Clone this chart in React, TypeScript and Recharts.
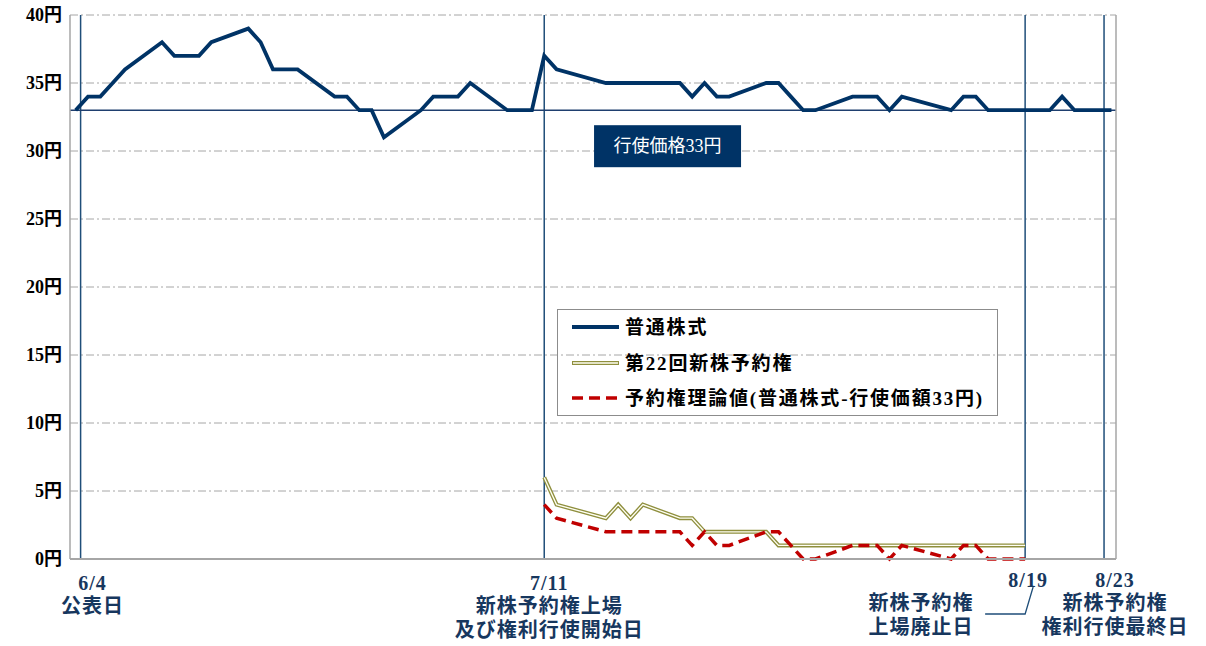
import React from 'react';
import { LineChart, Line, XAxis, YAxis, CartesianGrid, ReferenceLine, Legend } from 'recharts';

// ---- data ----
const TRADE_DATES = [
  '6/3', '6/4', '6/5', '6/6', '6/7', '6/10', '6/11', '6/12', '6/13', '6/14',
  '6/17', '6/18', '6/19', '6/20', '6/21', '6/24', '6/25', '6/26', '6/27', '6/28',
  '7/1', '7/2', '7/3', '7/4', '7/5', '7/8', '7/9', '7/10', '7/11', '7/12',
  '7/16', '7/17', '7/18', '7/19', '7/22', '7/23', '7/24', '7/25', '7/26', '7/29',
  '7/30', '7/31', '8/1', '8/2', '8/5', '8/6', '8/7', '8/8', '8/9', '8/13',
  '8/14', '8/15', '8/16', '8/19', '8/20', '8/21', '8/22', '8/23', '8/26',
];
const STOCK = [
  33, 34, 34, 35, 36, 38, 37, 37, 37, 38,
  39, 38, 36, 36, 36, 34, 34, 33, 33, 31,
  33, 34, 34, 34, 35, 33, 33, 33, 37, 36,
  35, 35, 35, 35, 35, 34, 35, 34, 34, 35,
  35, 34, 33, 33, 34, 34, 34, 33, 34, 33,
  34, 34, 33, 33, 33, 33, 34, 33, 33,
];
const WARRANT_DATES = [
  '7/11', '7/12', '7/16', '7/17', '7/18', '7/19', '7/22', '7/23', '7/24', '7/25',
  '7/26', '7/29', '7/30', '7/31', '8/1', '8/2', '8/5', '8/6', '8/7', '8/8',
  '8/9', '8/13', '8/14', '8/15', '8/16', '8/19',
];
const WARRANT = [6, 4, 3, 4, 3, 4, 3, 3, 2, 2, 2, 2, 1, 1, 1, 1, 1, 1, 1, 1, 1, 1, 1, 1, 1, 1];
const THEORY = [4, 3, 2, 2, 2, 2, 2, 1, 2, 1, 1, 2, 2, 1, 0, 0, 1, 1, 1, 0, 1, 0, 1, 1, 0, 0];

const Y_TICKS = [0, 5, 10, 15, 20, 25, 30, 35, 40];
const EXERCISE_PRICE = 33;
const EXERCISE_LABEL = '行使価格33円';

const SERIES_NAMES = ['普通株式', '第22回新株予約権', '予約権理論値(普通株式-行使価額33円)'];

// event markers (x in days from 6/3, as drawn in the picture)
const EVENT_X = [0.4, 38, 77, 83.4];
const EVENT_DATES = ['6/4', '7/11', '8/19', '8/23'];
const EVENT_TEXT = [
  ['公表日'],
  ['新株予約権上場', '及び権利行使開始日'],
  ['新株予約権', '上場廃止日'],
  ['新株予約権', '権利行使最終日'],
];

// ---- helpers ----
const BASE = Date.UTC(2019, 5, 3);
const dayOf = (md: string) => {
  const [m, d] = md.split('/').map(Number);
  return (Date.UTC(2019, m - 1, d) - BASE) / 86400000;
};

const rows = TRADE_DATES.map((d, i) => {
  const wi = WARRANT_DATES.indexOf(d);
  return {
    x: dayOf(d),
    date: d,
    stock: STOCK[i],
    warrant: wi >= 0 ? WARRANT[wi] : undefined,
    theory: wi >= 0 ? THEORY[wi] : undefined,
  };
});

// ---- styles ----
const FONT = "'Liberation Serif','Noto Sans CJK JP',serif";
const NAVY = '#003366';
const LABEL_NAVY = '#17375E';
const OLIVE = '#8F8F3E';
const RED = '#C00000';
const GRID = '#A6A6A6';
const VLINE = '#1F4E79';

// label layout per event: dx of date / description, baselines below axis
const EVENT_LAYOUT = [
  { dateDx: 12, descDx: 12, dateDy: 31, descDy: [54, 78], leader: false },
  { dateDx: 5, descDx: 5, dateDy: 31, descDy: [54, 78], leader: false },
  { dateDx: 3, descDx: -104, dateDy: 28, descDy: [51, 75], leader: true },
  { dateDx: 11, descDx: 11, dateDy: 28, descDy: [51, 75], leader: false },
];

const makeEventLabel = (idx: number) => (props: any) => {
  const vb = props.viewBox || {};
  const vx = vb.x;
  const bottom = vb.y + vb.height;
  const L = EVENT_LAYOUT[idx];
  const textStyle = {
    fontFamily: FONT,
    fontSize: 20,
    fontWeight: 700,
    fill: LABEL_NAVY,
    letterSpacing: 1,
  } as any;
  return (
    <g>
      <text x={vx + L.dateDx} y={bottom + L.dateDy} textAnchor="middle" {...textStyle}>
        {EVENT_DATES[idx]}
      </text>
      {EVENT_TEXT[idx].map((t, k) => (
        <text key={k} x={vx + L.descDx} y={bottom + L.descDy[k]} textAnchor="middle" {...textStyle}>
          {t}
        </text>
      ))}
      {L.leader && (
        <polyline
          points={`${vx - 40},${bottom + 55} ${vx},${bottom + 55} ${vx + 8},${bottom + 28}`}
          fill="none"
          stroke={VLINE}
          strokeWidth={1.3}
        />
      )}
    </g>
  );
};

const ExerciseLabel = (props: any) => {
  const vb = props.viewBox || {};
  const bx = vb.x + vb.width * 0.501;
  const by = vb.y + 15;
  const w = 147;
  const h = 42;
  return (
    <g>
      <rect x={bx} y={by} width={w} height={h} fill={NAVY} />
      <text
        x={bx + w / 2}
        y={by + h / 2 + 6}
        textAnchor="middle"
        fontFamily={FONT}
        fontSize={18}
        fill="#FFFFFF"
      >
        {EXERCISE_LABEL}
      </text>
    </g>
  );
};

const LegendBox = () => {
  const rowsY = [17, 53, 88];
  const textStyle = { fontFamily: FONT, fontSize: 19, fontWeight: 700, fill: '#000', letterSpacing: 1.8 } as any;
  return (
    <div
      style={{
        width: 441,
        height: 107,
        border: '1px solid #8C8C8C',
        boxSizing: 'border-box',
      }}
    >
      <svg width={439} height={105} style={{ display: 'block' }}>
        <line x1={14} x2={61} y1={rowsY[0]} y2={rowsY[0]} stroke={NAVY} strokeWidth={3.8} />
        <line x1={14} x2={61} y1={rowsY[1]} y2={rowsY[1]} stroke={OLIVE} strokeWidth={4} />
        <line x1={15} x2={60} y1={rowsY[1]} y2={rowsY[1]} stroke="#FFFFF4" strokeWidth={1.3} />
        <line x1={14} x2={61} y1={rowsY[2]} y2={rowsY[2]} stroke={RED} strokeWidth={3.5} strokeDasharray="11 6" />
        {SERIES_NAMES.map((n, i) => (
          <text key={n} x={67} y={rowsY[i] + 7} {...textStyle}>
            {n}
          </text>
        ))}
      </svg>
    </div>
  );
};

export default function App() {
  return (
    <div style={{ position: 'absolute', left: 0, top: 0, width: 1206, height: 646, background: '#fff' }}>
      <LineChart
        width={1206}
        height={646}
        data={rows}
        margin={{ top: 15, right: 0, bottom: 57, left: 0 }}
      >
        <CartesianGrid vertical={false} stroke={GRID} strokeDasharray="8 3 2 3" />
        <XAxis
          dataKey="x"
          type="number"
          domain={[-0.46, 84.37]}
          allowDataOverflow
          tick={false}
          tickLine={false}
          axisLine={{ stroke: GRID, strokeWidth: 2 }}
          height={30}
        />
        <YAxis
          domain={[0, 40]}
          ticks={Y_TICKS}
          tickFormatter={(v: number) => `${v}円`}
          width={70}
          tickSize={0}
          tickMargin={8}
          tickLine={false}
          axisLine={{ stroke: GRID, strokeWidth: 1.5 }}
          tick={{ fill: '#000', fontSize: 18, fontWeight: 700, fontFamily: FONT }}
        />
        <YAxis
          yAxisId="r"
          orientation="right"
          domain={[0, 40]}
          width={90}
          tick={false}
          tickLine={false}
          axisLine={{ stroke: GRID, strokeWidth: 1.5 }}
        />
        {EVENT_X.map((x, i) => (
          <ReferenceLine
            key={EVENT_DATES[i]}
            x={x}
            stroke={VLINE}
            strokeWidth={1.5}
            label={makeEventLabel(i)}
          />
        ))}
        <ReferenceLine y={EXERCISE_PRICE} stroke="#1F3F6F" strokeWidth={1.5} label={ExerciseLabel} />
        <Line
          dataKey="stock"
          name={SERIES_NAMES[0]}
          stroke={NAVY}
          strokeWidth={3.8}
          dot={false}
          isAnimationActive={false}
        />
        <Line
          dataKey="warrant"
          name={SERIES_NAMES[1]}
          stroke={OLIVE}
          strokeWidth={4}
          dot={false}
          isAnimationActive={false}
        />
        <Line
          dataKey="warrant"
          name="warrant-inner"
          stroke="#FFFFF4"
          strokeWidth={1.3}
          dot={false}
          legendType="none"
          isAnimationActive={false}
        />
        <Line
          dataKey="theory"
          name={SERIES_NAMES[2]}
          stroke={RED}
          strokeWidth={3.5}
          strokeDasharray="11 6"
          dot={false}
          isAnimationActive={false}
        />
        <Legend
          layout="horizontal"
          verticalAlign="middle"
          align="center"
          wrapperStyle={{ left: 557, top: 309, width: 441, height: 107 }}
          content={() => <LegendBox />}
        />
      </LineChart>
    </div>
  );
}
